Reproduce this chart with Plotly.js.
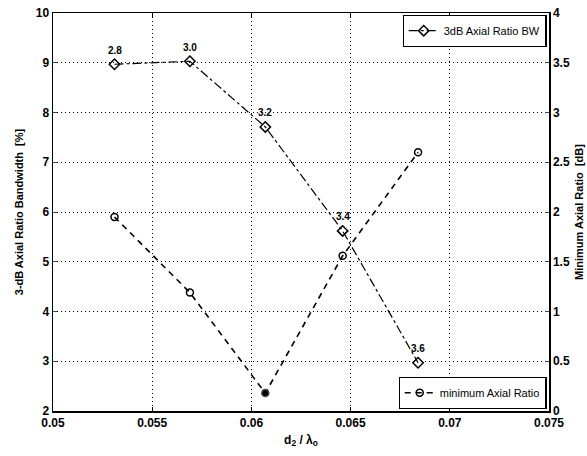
<!DOCTYPE html>
<html><head><meta charset="utf-8">
<script src="https://cdn.plot.ly/plotly-3.0.1.min.js"></script>
<style>html,body{margin:0;padding:0;background:#fff}#g{width:587px;height:456px}</style>
</head><body><div id="g"></div>
<script>
const xVals = [0.0531, 0.0569, 0.0607, 0.0646, 0.0684];
const bwVals = [8.97, 9.03, 7.71, 5.62, 2.97];
const arVals = [1.95, 1.19, 0.18, 1.56, 2.60];
const pointLabels = ['2.8', '3.0', '3.2', '3.4', '3.6'];
const xTicks = [0.05, 0.055, 0.06, 0.065, 0.07, 0.075];
const xTickText = ['0.05', '0.055', '0.06', '0.065', '0.07', '0.075'];

const F = 'Liberation Sans, Arial, sans-serif';
const traces = [
  {x: xVals, y: bwVals, name: '3dB Axial Ratio BW', mode: 'lines+markers',
   line: {color: '#000', width: 1.2, dash: 'dashdot'},
   marker: {symbol: 'diamond-open', size: 8, color: '#000', line: {width: 1.5}},
   legend: 'legend'},
  {x: xVals, y: arVals, name: 'minimum Axial Ratio', mode: 'lines+markers', yaxis: 'y2',
   line: {color: '#000', width: 1.6, dash: '6px,5px'},
   marker: {symbol: arVals.map((v, i) => i === 2 ? 'circle' : 'circle-open'), size: 7, color: '#000', line: {width: 1.5}},
   legend: 'legend2'}
];
const annotations = xVals.map((x, i) => ({
  x: x, y: bwVals[i], xref: 'x', yref: 'y', text: pointLabels[i], showarrow: false,
  yshift: 14, font: {family: F, size: 10, color: '#000', weight: 'bold'}
}));
const gridStyle = {showgrid: true, gridcolor: '#000', griddash: '1px,3px', gridwidth: 1};
const layout = {
  width: 587, height: 456, paper_bgcolor: '#fff', plot_bgcolor: '#fff',
  margin: {l: 53, r: 38, t: 13, b: 45},
  font: {family: F, color: '#000', size: 11, weight: 'bold'},
  xaxis: Object.assign({range: [0.05, 0.075], tickvals: xTicks, ticktext: xTickText, showline: true, linecolor: '#000', linewidth: 1.5,
    mirror: 'ticks', ticks: 'inside', ticklen: 4, tickcolor: '#000',
    zeroline: false, tickfont: {family: F, size: 12, weight: 'bold'},
    title: {text: '<b>d<sub>2</sub> / λ<sub>o</sub></b>', font: {family: F, size: 12}, standoff: 6}}, gridStyle),
  yaxis: Object.assign({range: [2, 10], dtick: 1, showline: true, linecolor: '#000', linewidth: 1.5, ticks: 'inside', ticklen: 4,
    zeroline: false, tickfont: {family: F, size: 12, weight: 'bold'},
    title: {text: '<b>3-dB Axial Ratio Bandwidth  [%]</b>', font: {family: F, size: 11}, standoff: 10}}, gridStyle),
  yaxis2: {range: [0, 4], dtick: 0.5, overlaying: 'y', side: 'right', showline: true, linecolor: '#000', linewidth: 1.5,
    ticks: 'inside', ticklen: 4, showgrid: false, zeroline: false, tickfont: {family: F, size: 12, weight: 'bold'},
    title: {text: '<b>Minimum Axial Ratio  [dB]</b>', font: {family: F, size: 11}, standoff: 6}},
  legend: {x: 0.995, y: 0.995, xanchor: 'right', yanchor: 'top', bgcolor: '#fff', bordercolor: '#000', borderwidth: 1.2,
    font: {family: F, size: 11, weight: 'normal'}, itemwidth: 30, tracegroupgap: 0},
  legend2: {x: 0.995, y: 0.005, xanchor: 'right', yanchor: 'bottom', bgcolor: '#fff', bordercolor: '#000', borderwidth: 1.2,
    font: {family: F, size: 11, weight: 'normal'}, itemwidth: 30},
  annotations: annotations, showlegend: true
};
Plotly.newPlot('g', traces, layout, {displayModeBar: false, staticPlot: true});
</script></body></html>
